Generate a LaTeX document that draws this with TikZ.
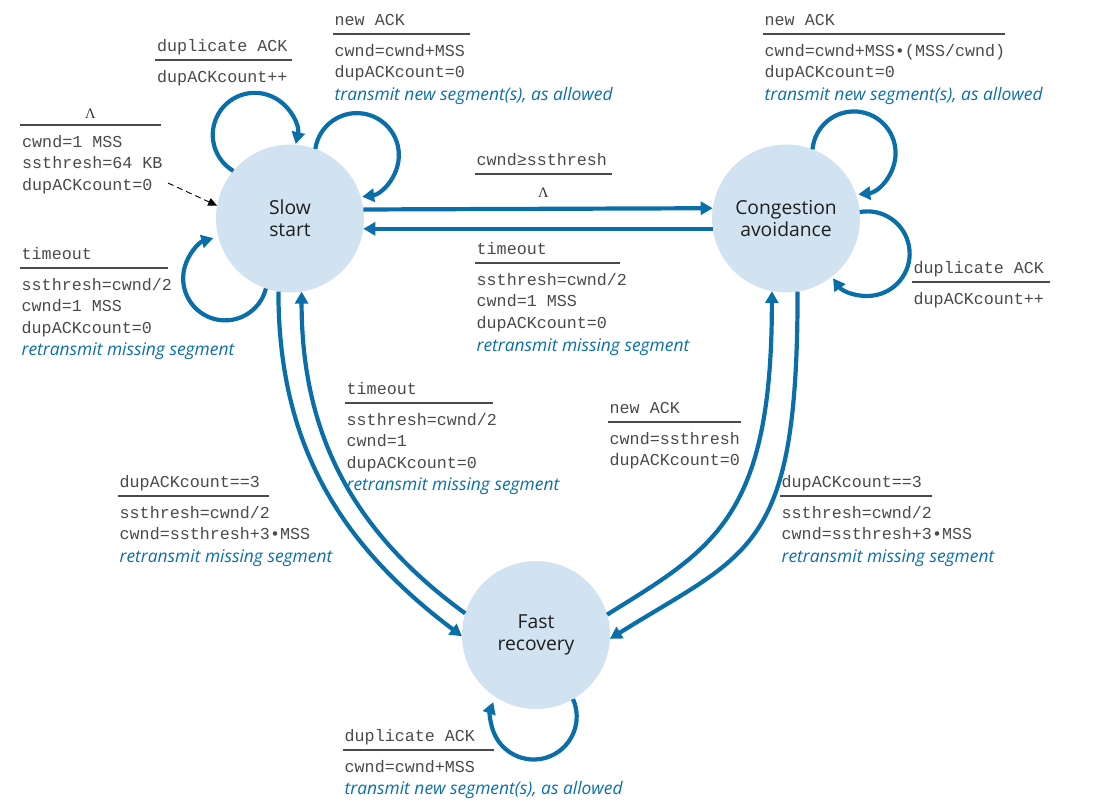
\documentclass[tikz,border=0pt]{standalone}
\usepackage{fontspec}
\setmainfont{Open Sans}
\newfontfamily\monof{Liberation Mono}
\newfontfamily\sansf{Open Sans}
\newfontfamily\seriff{Liberation Serif}
\usetikzlibrary{arrows.meta}
\definecolor{pblue}{HTML}{0A6FA8}
\definecolor{pfill}{HTML}{D1E3F1}
\definecolor{mgray}{HTML}{4A4A4A}
\begin{document}
\begin{tikzpicture}[x=1pt,y=1pt,
  state/.style={circle, fill=pfill, minimum size=148pt, inner sep=0pt, outer sep=0pt, align=center,
    font=\sansf\fontsize{19.3}{22.5}\selectfont, text=black!88},
  conn/.style={draw=pblue, line width=4.2pt, -{Triangle[length=12pt,width=13pt]}},
  mono/.style={anchor=base west, inner sep=0pt, font=\monof\fontsize{16.7}{20}\selectfont, text=mgray},
  act/.style={anchor=base west, inner sep=0pt, font=\sansf\itshape\fontsize{17.4}{20}\selectfont, text=pblue},
  rulel/.style={draw=mgray, line width=1.2pt},
  lam/.style={anchor=base, inner sep=0pt, font=\seriff\fontsize{14.5}{16}\selectfont, text=black!80},
]
\useasboundingbox (0,0) rectangle (1106,-807);

% states
\node[state] (ss) at (290,-218.5) {Slow\\start};
\node[state] (ca) at (786,-218.5) {Congestion\\avoidance};
\node[state] (fr) at (536,-635) {Fast\\recovery};

% horizontal transitions
\draw[conn] (ss.7.8) -- (ca.172.2);
\draw[conn] (ca.188.5) -- (ss.-8.5);

% long transitions
\draw[conn] (ss.-99) to[out=-90, in=143] (fr.181);
\draw[conn] (fr.163) to[out=144, in=-90] (ss.-81);
\draw[conn] (fr.16) .. controls +(32:124) and +(-90:228) .. (ca.-101);
\draw[conn] (ca.-81.5) .. controls +(-90:261) and +(32:165) .. (fr.-3);

% self loops
\draw[conn] (ss.140) arc[start angle=239.3, end angle=-12.7, radius=42];
\draw[conn] (ss.70) arc[start angle=171.6, end angle=-82.7, radius=42];
\draw[conn] (ss.-109) arc[start angle=-13.9, end angle=-253.7, radius=42];
\draw[conn] (ca.69) arc[start angle=175, end angle=-84, radius=41.6];
\draw[conn] (ca.5) arc[start angle=100.4, end angle=-144.3, radius=42.3];
\draw[conn] (fr.-60) arc[start angle=23.9, end angle=-199.7, radius=43];

% initial dashed arrow
\coordinate (init) at (168,-183);
\draw[black, line width=0.9pt, dash pattern=on 6pt off 4pt, -{Triangle[length=9pt,width=8pt]}] (init) -- (ss.170);

% B1 initial
\draw[rulel] (20,-125) -- (161,-125);
\node[lam] (b1c) at (90.5,-118) {Λ};
\node[mono] (b1a) at (22,-147) {cwnd=1 MSS};
\node[mono] (b1b) at (22,-168.5) {ssthresh=64 KB};
\node[mono] (b1d) at (22,-190) {dupACKcount=0};

% B2 SS duplicate ACK
\draw[rulel] (155,-60) -- (292,-60);
\node[mono] (b2c) at (157,-51) {duplicate ACK};
\node[mono] (b2a) at (157,-82) {dupACKcount++};

% B3 SS new ACK
\draw[rulel] (333,-34) -- (470,-34);
\node[mono] (b3c) at (334.5,-25) {new ACK};
\node[mono] (b3a) at (334.5,-56) {cwnd=cwnd+MSS};
\node[mono] (b3b) at (334.5,-77.5) {dupACKcount=0};
\node[act] (b3d) at (334.5,-100.5) {transmit new segment(s), as allowed};

% B4 CA new ACK
\draw[rulel] (763,-34) -- (1005,-34);
\node[mono] (b4c) at (764.5,-25) {new ACK};
\node[mono] (b4a) at (764.5,-56) {cwnd=cwnd+MSS•(MSS/cwnd)};
\node[mono] (b4b) at (764.5,-77.5) {dupACKcount=0};
\node[act] (b4d) at (764.5,-100.5) {transmit new segment(s), as allowed};

% B5 SS -> CA
\draw[rulel] (475,-174) -- (612,-174);
\node[mono] (b5c) at (476.5,-165) {cwnd≥ssthresh};
\node[lam] (b5a) at (543.5,-197) {Λ};

% B6 CA -> SS timeout
\draw[rulel] (475,-263) -- (620,-263);
\node[mono] (b6c) at (476.5,-254) {timeout};
\node[mono] (b6a) at (476.5,-285) {ssthresh=cwnd/2};
\node[mono] (b6b) at (476.5,-306.5) {cwnd=1 MSS};
\node[mono] (b6d) at (476.5,-328) {dupACKcount=0};
\node[act] (b6e) at (476.5,-351.5) {retransmit missing segment};

% B7 CA duplicate ACK
\draw[rulel] (912,-282) -- (1050,-282);
\node[mono] (b7c) at (913.5,-273) {duplicate ACK};
\node[mono] (b7a) at (913.5,-304) {dupACKcount++};

% B8 SS timeout
\draw[rulel] (20,-268) -- (168,-268);
\node[mono] (b8c) at (21.5,-259) {timeout};
\node[mono] (b8a) at (21.5,-290) {ssthresh=cwnd/2};
\node[mono] (b8b) at (21.5,-311.5) {cwnd=1 MSS};
\node[mono] (b8d) at (21.5,-333) {dupACKcount=0};
\node[act] (b8e) at (21.5,-355.5) {retransmit missing segment};

% B9 FR -> SS timeout
\draw[rulel] (345,-403) -- (493,-403);
\node[mono] (b9c) at (346.5,-394) {timeout};
\node[mono] (b9a) at (346.5,-425) {ssthresh=cwnd/2};
\node[mono] (b9b) at (346.5,-446.5) {cwnd=1};
\node[mono] (b9d) at (346.5,-468) {dupACKcount=0};
\node[act] (b9e) at (346.5,-490.5) {retransmit missing segment};

% B10 SS -> FR
\draw[rulel] (118,-496) -- (269,-496);
\node[mono] (b10c) at (119.5,-487) {dupACKcount==3};
\node[mono] (b10a) at (119.5,-518) {ssthresh=cwnd/2};
\node[mono] (b10b) at (119.5,-539.5) {cwnd=ssthresh+3•MSS};
\node[act] (b10d) at (119.5,-562) {retransmit missing segment};

% B11 FR -> CA
\draw[rulel] (608,-422) -- (741,-422);
\node[mono] (b11c) at (609.5,-413) {new ACK};
\node[mono] (b11a) at (609.5,-444) {cwnd=ssthresh};
\node[mono] (b11b) at (609.5,-465.5) {dupACKcount=0};

% B12 CA -> FR
\draw[rulel] (780,-496) -- (932,-496);
\node[mono] (b12c) at (781.5,-487) {dupACKcount==3};
\node[mono] (b12a) at (781.5,-518) {ssthresh=cwnd/2};
\node[mono] (b12b) at (781.5,-539.5) {cwnd=ssthresh+3•MSS};
\node[act] (b12d) at (781.5,-562) {retransmit missing segment};

% B13 FR duplicate ACK
\draw[rulel] (343,-750) -- (494,-750);
\node[mono] (b13c) at (344.5,-741) {duplicate ACK};
\node[mono] (b13a) at (344.5,-772) {cwnd=cwnd+MSS};
\node[act] (b13d) at (344.5,-794.5) {transmit new segment(s), as allowed};
\end{tikzpicture}
\end{document}
